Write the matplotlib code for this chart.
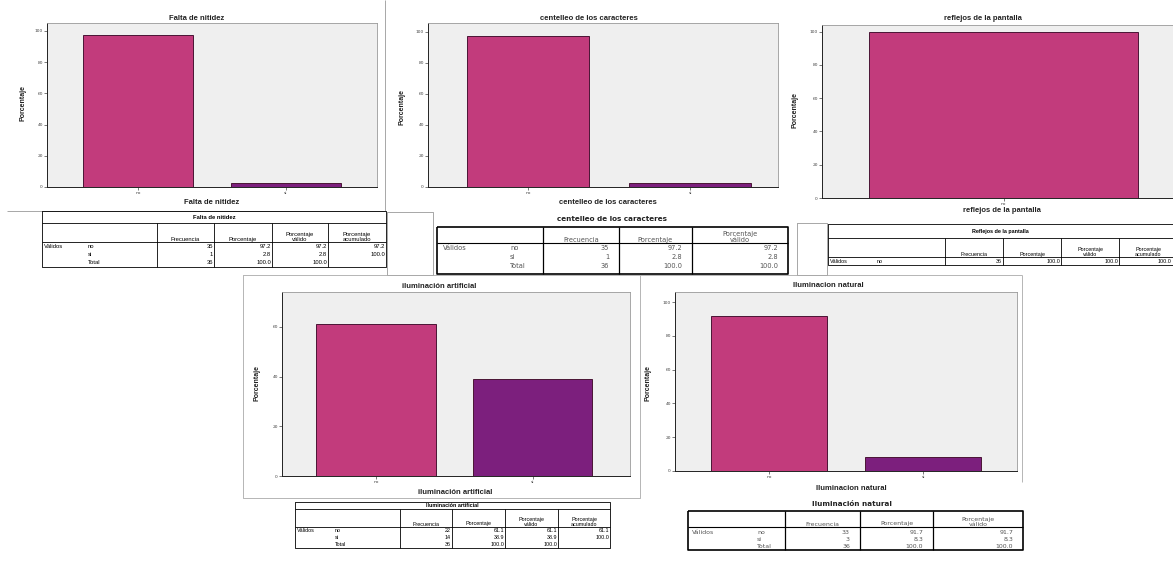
import matplotlib
matplotlib.use('Agg')
import matplotlib.pyplot as plt

# Data
falta_cats = ['no', 'si']
falta_pct = [97.2, 2.8]
falta_freq = [35, 1]
falta_acum = [97.2, 100.0]

cent_cats = ['no', 'si']
cent_pct = [97.2, 2.8]
cent_freq = [35, 1]

refl_cats = ['no']
refl_pct = [100.0]
refl_freq = [36]
refl_acum = [100.0]

art_cats = ['no', 'si']
art_pct = [61.1, 38.9]
art_freq = [22, 14]
art_acum = [61.1, 100.0]

nat_cats = ['no', 'si']
nat_pct = [91.7, 8.3]
nat_freq = [33, 3]

total_freq = 36

W, H = 1173, 561
fig = plt.figure(figsize=(W / 100, H / 100), dpi=100)
fig.patch.set_facecolor('white')

# overlay axes in pixel coordinates for tables, frames and labels
ov = fig.add_axes([0, 0, 1, 1], zorder=-1)
ov.set_xlim(0, W)
ov.set_ylim(H, 0)
ov.axis('off')

c_no = '#C23B7C'
c_si = '#7C1F7D'
sans = 'Liberation Sans'


def chart(box, cats, vals, xlim, width, ymax, yticks):
    l, r, t, b = box
    ax = fig.add_axes([l / W, 1 - b / H, (r - l) / W, (b - t) / H])
    cols = [c_no, c_si][:len(cats)]
    ax.bar(range(len(cats)), vals, width=width, color=cols,
           edgecolor='#4a1535', linewidth=0.7)
    ax.set_xlim(xlim)
    ax.set_ylim(0, ymax)
    ax.set_xticks(range(len(cats)))
    ax.set_xticklabels(cats)
    ax.set_yticks(yticks)
    ax.tick_params(labelsize=3.2, length=2, width=0.5, colors='#444', pad=1)
    ax.set_facecolor('#EFEFEF')
    for s in ['left', 'bottom']:
        ax.spines[s].set_color('#222')
        ax.spines[s].set_linewidth(0.7)
    for s in ['top', 'right']:
        ax.spines[s].set_color('#999')
        ax.spines[s].set_linewidth(0.6)
    return ax


def labels(title, txy, xlab, xxy, yxy):
    ov.text(*txy, title, ha='center', va='center', fontsize=5.5,
            fontweight='bold', family=sans, color='#222')
    ov.text(*xxy, xlab, ha='center', va='center', fontsize=5.5,
            fontweight='bold', family=sans, color='#222')
    ov.text(*yxy, 'Porcentaje', ha='center', va='center', fontsize=5,
            fontweight='bold', family=sans, rotation=90, color='#222')


def line(xs, ys, c='k', lw=0.6):
    ov.plot(xs, ys, color=c, lw=lw, solid_capstyle='butt')


def rect(x0, y0, x1, y1, c='#999', lw=0.6):
    line([x0, x1, x1, x0, x0], [y0, y0, y1, y1, y0], c, lw)


# ---- charts ----
chart((47, 377, 23, 187), falta_cats, falta_pct, (-0.615, 1.615), 0.74, 105,
      [0, 20, 40, 60, 80, 100])
labels('Falta de nitidez', (197, 18), 'Falta de nitidez', (212, 202), (23, 103))

chart((428, 778, 23, 187), cent_cats, cent_pct, (-0.615, 1.54), 0.75, 105.8,
      [0, 20, 40, 60, 80, 100])
labels('centelleo de los caracteres', (589, 18), 'centelleo de los caracteres',
       (608, 202), (402, 107))

chart((822, 1185, 25, 198), refl_cats, refl_pct, (-0.5, 0.5), 0.74, 104,
      [0, 20, 40, 60, 80, 100])
labels('reflejos de la pantalla', (983, 18), 'reflejos de la pantalla',
       (1002, 210), (795, 110))

chart((282, 630, 292, 476), art_cats, art_pct, (-0.6, 1.62), 0.76, 74,
      [0, 20, 40, 60])
labels('iluminación artificial', (439, 286), 'iluminación artificial',
       (455, 492), (257, 383))

chart((675, 1017, 292, 471), nat_cats, nat_pct, (-0.61, 1.61), 0.75, 106,
      [0, 20, 40, 60, 80, 100])
labels('Iluminacion natural', (828, 285), 'Iluminacion natural',
       (851, 488), (648, 383))

# ---- panel frames ----
line([385, 385], [0, 211], '#999')
line([7, 385], [211, 211], '#999')
rect(387, 212, 433, 275, '#999')
rect(797, 223, 827, 275, '#999')
rect(243, 275, 640, 498, '#aaa')
line([640, 1022], [275, 275], '#aaa')
line([1022, 1022], [275, 482], '#aaa')


# ---- SPSS style tables ----
def spss_table(title, edges, y_top, y_title, y_head, y_bot, row_ys, header,
               row_labels, cells, lab_x, fs=4.2):
    x0, x1 = edges[0], edges[-1]
    rect(x0, y_top, x1, y_bot, 'k', 0.6)
    line([x0, x1], [y_title, y_title])
    line([x0, x1], [y_head, y_head])
    for xe in edges[1:-1]:
        line([xe, xe], [y_title, y_bot])
    ov.text((x0 + min(x1, W)) / 2, (y_top + y_title) / 2, title, ha='center',
            va='center', fontsize=fs, fontweight='bold', family=sans)
    for i, h in enumerate(header):
        ov.text((edges[i + 1] + edges[i + 2]) / 2, y_head - 0.5, h,
                ha='center', va='bottom', fontsize=fs, family=sans,
                linespacing=0.95)
    ov.text(x0 + 2, row_ys[0], 'Válidos', ha='left', va='center',
            fontsize=fs, family=sans)
    for lab, y, row in zip(row_labels, row_ys, cells):
        ov.text(lab_x, y, lab, ha='left', va='center', fontsize=fs,
                family=sans)
        for j, v in enumerate(row):
            ov.text(min(edges[j + 2] - 1, W - 2), y, v, ha='right',
                    va='center', fontsize=fs, family=sans)


def plain_table(title, txy, edges, y_top, y_head, y_bot, row_ys, header,
                row_labels, cells, val_x, lab_x, fs=4.8):
    x0, x1 = edges[0], edges[-1]
    rect(x0, y_top, x1, y_bot, 'k', 1.2)
    line([x0, x1], [y_head, y_head], 'k', 0.8)
    for xe in edges[1:-1]:
        line([xe, xe], [y_top, y_bot], 'k', 0.9)
    ov.text(*txy, title, ha='center', va='center', fontsize=5.2,
            fontweight='bold', family='DejaVu Sans', color='#222')
    for i, h in enumerate(header):
        ov.text((edges[i + 1] + edges[i + 2]) / 2, y_head - 0.5, h,
                ha='center', va='bottom', fontsize=fs, family='DejaVu Sans',
                color='#555', linespacing=0.95)
    ov.text(val_x, row_ys[0], 'Válidos', ha='left', va='center', fontsize=fs,
            family='DejaVu Sans', color='#555')
    for lab, y, row in zip(row_labels, row_ys, cells):
        ov.text(lab_x, y, lab, ha='left', va='center', fontsize=fs,
                family='DejaVu Sans', color='#555')
        for j, v in enumerate(row):
            ov.text(edges[j + 2] - 10, y, v, ha='right', va='center',
                    fontsize=fs, family='DejaVu Sans', color='#555')


hdr4 = ['Frecuencia', 'Porcentaje', 'Porcentaje\nválido', 'Porcentaje\nacumulado']
hdr3 = ['Frecuencia', 'Porcentaje', 'Porcentaje\nválido']

# Falta de nitidez
rows = [[str(f), f'{p:.1f}', f'{p:.1f}', f'{a:.1f}']
        for f, p, a in zip(falta_freq, falta_pct, falta_acum)]
rows.append([str(total_freq), '100.0', '100.0', ''])
spss_table('Falta de nitidez', [42, 157, 214, 272, 328, 386], 211, 223, 242,
           267, [246, 254, 262], hdr4, falta_cats + ['Total'], rows, 88)

# Reflejos de la pantalla
rows = [[str(f), f'{p:.1f}', f'{p:.1f}', f'{a:.1f}']
        for f, p, a in zip(refl_freq, refl_pct, refl_acum)]
spss_table('Reflejos de la pantalla', [828, 945, 1003, 1061, 1119, 1177], 224,
           238, 257, 265, [261], hdr4, refl_cats, rows, 877, fs=3.9)

# Iluminación artificial
rows = [[str(f), f'{p:.1f}', f'{p:.1f}', f'{a:.1f}']
        for f, p, a in zip(art_freq, art_pct, art_acum)]
rows.append([str(total_freq), '100.0', '100.0', ''])
spss_table('Iluminación artificial', [295, 400, 452, 505, 558, 610], 502, 509,
           527, 548, [531, 537.5, 544], hdr4, art_cats + ['Total'], rows, 335,
           fs=3.9)

# centelleo de los caracteres
rows = [[str(f), f'{p:.1f}', f'{p:.1f}'] for f, p in zip(cent_freq, cent_pct)]
rows.append([str(total_freq), '100.0', '100.0'])
plain_table('centelleo de los caracteres', (612, 219), [437, 543, 619, 692, 788],
            227, 243, 274, [248, 257, 266], hdr3, cent_cats + ['Total'], rows,
            443, 510)

# Iluminación natural
rows = [[str(f), f'{p:.1f}', f'{p:.1f}'] for f, p in zip(nat_freq, nat_pct)]
rows.append([str(total_freq), '100.0', '100.0'])
plain_table('Iluminación natural', (852, 504), [688, 785, 860, 933, 1023],
            511, 527, 550, [533, 539.5, 546], hdr3, nat_cats + ['Total'], rows,
            692, 757, fs=4.5)

fig.savefig('out.png', dpi=100)
